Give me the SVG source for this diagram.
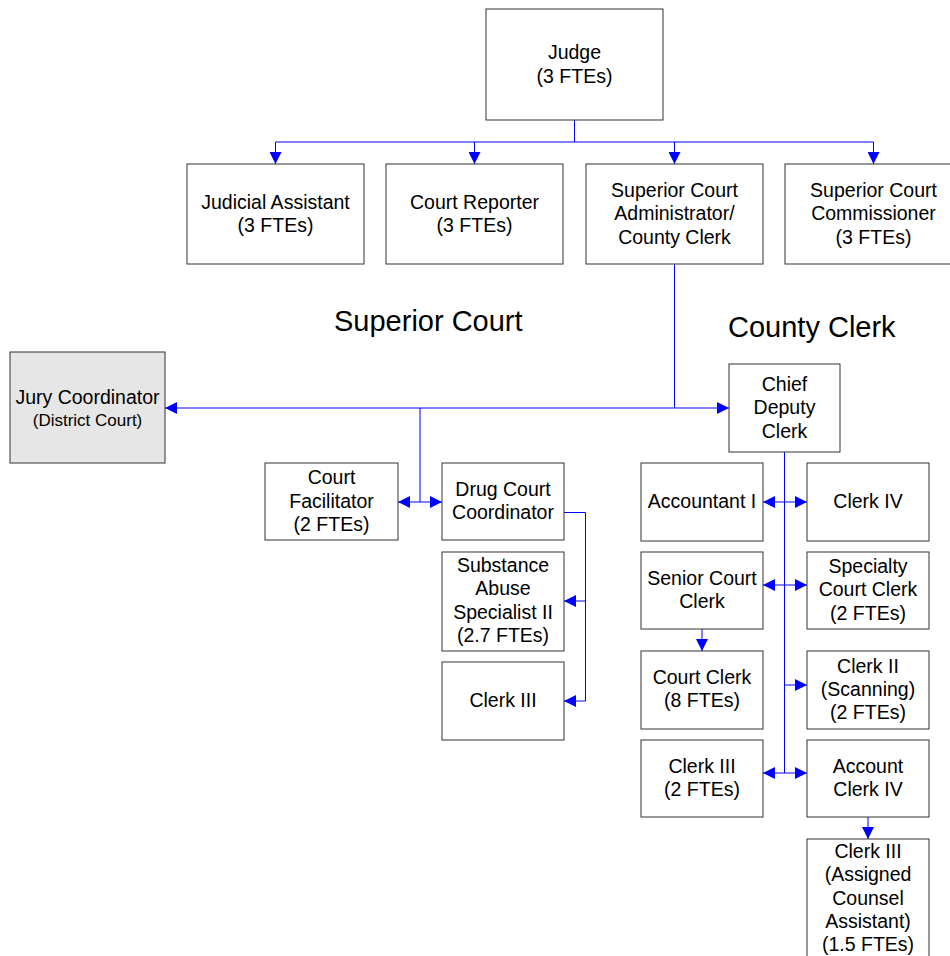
<svg xmlns="http://www.w3.org/2000/svg" width="950" height="956" viewBox="0 0 950 956">
<style>
.box{fill:#ffffff;stroke:#333333;stroke-width:1}
.gray{fill:#e6e6e6}
text{font-family:"Liberation Sans",Arial,sans-serif;font-size:19.5px;fill:#000000;text-anchor:middle}
.small{font-size:17px}
.title{font-size:29px;text-anchor:start}
.c{fill:none;stroke:#0000ff;stroke-width:1}
.a{marker-end:url(#ah)}
.d{marker-end:url(#ah);marker-start:url(#ah)}
</style>
<defs>
<marker id="ah" markerUnits="userSpaceOnUse" markerWidth="12" markerHeight="12" viewBox="0 0 12 12" refX="12" refY="6" orient="auto-start-reverse">
<path d="M0,0 L12,6 L0,12 z" fill="#0000ff"/>
</marker>
</defs>
<rect width="950" height="956" fill="#ffffff"/>

<g id="connectors">
<path class="c" d="M574.5 120 V142 M275.5 142 H873.5"/>
<path class="c a" d="M275.5 142 V164"/>
<path class="c a" d="M474.5 142 V164"/>
<path class="c a" d="M674.5 142 V164"/>
<path class="c a" d="M873.5 142 V164"/>
<path class="c" d="M674.5 264 V408"/>
<path class="c a" d="M674.5 408 H165"/>
<path class="c a" d="M674.5 408 H729"/>
<path class="c" d="M420 408 V502"/>
<path class="c d" d="M398 502 H442"/>
<path class="c a" d="M564 512.5 H585.5 V701 H564"/>
<path class="c a" d="M585.5 601 H564"/>
<path class="c" d="M784.5 452 V773"/>
<path class="c d" d="M763 502 H807"/>
<path class="c d" d="M763 585 H807"/>
<path class="c a" d="M784.5 685 H807"/>
<path class="c d" d="M763 773 H807"/>
<path class="c a" d="M702 629 V651"/>
<path class="c a" d="M868 817 V839"/>
</g>

<text class="title" x="334" y="331">Superior Court</text>
<text class="title" x="728" y="337">County Clerk</text>

<g id="judge">
<rect class="box" x="486" y="9" width="177" height="111"/>
<text x="574.5" y="59">Judge</text>
<text x="574.5" y="82.5">(3 FTEs)</text>
</g>
<g id="judicial-assistant">
<rect class="box" x="187" y="164" width="177" height="100"/>
<text x="275.5" y="208.5">Judicial Assistant</text>
<text x="275.5" y="232">(3 FTEs)</text>
</g>
<g id="court-reporter">
<rect class="box" x="386" y="164" width="177" height="100"/>
<text x="474.5" y="208.5">Court Reporter</text>
<text x="474.5" y="232">(3 FTEs)</text>
</g>
<g id="court-administrator">
<rect class="box" x="586" y="164" width="177" height="100"/>
<text x="674.5" y="197">Superior Court</text>
<text x="674.5" y="220.3">Administrator/</text>
<text x="674.5" y="243.6">County Clerk</text>
</g>
<g id="commissioner">
<rect class="box" x="785" y="164" width="177" height="100"/>
<text x="873.5" y="197">Superior Court</text>
<text x="873.5" y="220.3">Commissioner</text>
<text x="873.5" y="243.6">(3 FTEs)</text>
</g>
<g id="jury-coordinator">
<rect class="box gray" x="10" y="352" width="155" height="111"/>
<text x="87.5" y="404">Jury Coordinator</text>
<text class="small" x="87.5" y="426">(District Court)</text>
</g>
<g id="chief-deputy-clerk">
<rect class="box" x="729" y="364" width="111" height="88"/>
<text x="784.5" y="391">Chief</text>
<text x="784.5" y="414.3">Deputy</text>
<text x="784.5" y="437.6">Clerk</text>
</g>
<g id="court-facilitator">
<rect class="box" x="265" y="463" width="133" height="77"/>
<text x="331.5" y="484.3">Court</text>
<text x="331.5" y="507.6">Facilitator</text>
<text x="331.5" y="530.9">(2 FTEs)</text>
</g>
<g id="drug-court-coordinator">
<rect class="box" x="442" y="463" width="122" height="77"/>
<text x="503" y="496">Drug Court</text>
<text x="503" y="519.3">Coordinator</text>
</g>
<g id="substance-abuse-specialist">
<rect class="box" x="442" y="552" width="122" height="99"/>
<text x="503" y="572">Substance</text>
<text x="503" y="595.3">Abuse</text>
<text x="503" y="618.6">Specialist II</text>
<text x="503" y="641.9">(2.7 FTEs)</text>
</g>
<g id="clerk-iii-drug">
<rect class="box" x="442" y="662" width="122" height="78"/>
<text x="503" y="707">Clerk III</text>
</g>
<g id="accountant-i">
<rect class="box" x="641" y="463" width="122" height="78"/>
<text x="702" y="508">Accountant I</text>
</g>
<g id="clerk-iv">
<rect class="box" x="807" y="463" width="122" height="78"/>
<text x="868" y="508">Clerk IV</text>
</g>
<g id="senior-court-clerk">
<rect class="box" x="641" y="552" width="122" height="77"/>
<text x="702" y="584.5">Senior Court</text>
<text x="702" y="607.8">Clerk</text>
</g>
<g id="specialty-court-clerk">
<rect class="box" x="807" y="552" width="122" height="77"/>
<text x="868" y="573">Specialty</text>
<text x="868" y="596.3">Court Clerk</text>
<text x="868" y="619.6">(2 FTEs)</text>
</g>
<g id="court-clerk">
<rect class="box" x="641" y="651" width="122" height="78"/>
<text x="702" y="684">Court Clerk</text>
<text x="702" y="707.3">(8 FTEs)</text>
</g>
<g id="clerk-ii-scanning">
<rect class="box" x="807" y="651" width="122" height="78"/>
<text x="868" y="672.5">Clerk II</text>
<text x="868" y="695.8">(Scanning)</text>
<text x="868" y="719.1">(2 FTEs)</text>
</g>
<g id="clerk-iii-2fte">
<rect class="box" x="641" y="740" width="122" height="77"/>
<text x="702" y="772.5">Clerk III</text>
<text x="702" y="795.8">(2 FTEs)</text>
</g>
<g id="account-clerk-iv">
<rect class="box" x="807" y="740" width="122" height="77"/>
<text x="868" y="772.5">Account</text>
<text x="868" y="795.8">Clerk IV</text>
</g>
<g id="clerk-iii-assigned-counsel">
<rect class="box" x="807" y="839" width="122" height="120"/>
<text x="868" y="858">Clerk III</text>
<text x="868" y="881.3">(Assigned</text>
<text x="868" y="904.6">Counsel</text>
<text x="868" y="927.9">Assistant)</text>
<text x="868" y="951.2">(1.5 FTEs)</text>
</g>
</svg>
